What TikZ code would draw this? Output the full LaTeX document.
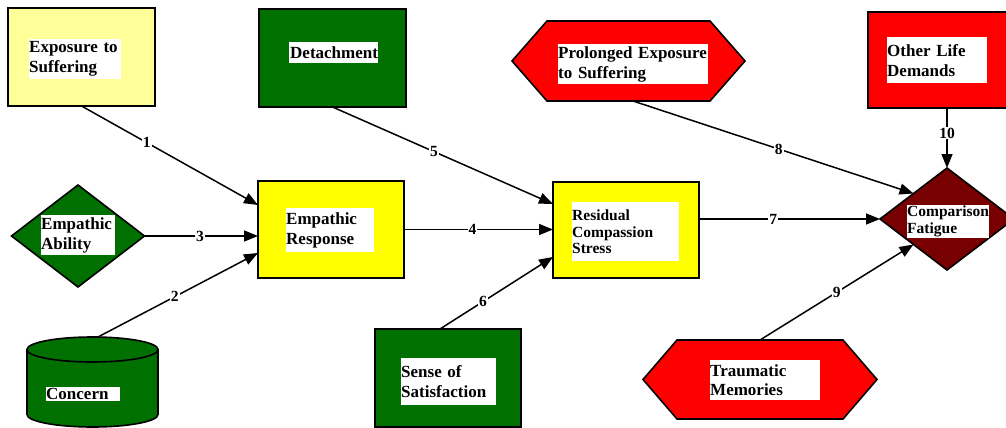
\documentclass[tikz,border=0pt]{standalone}
\usepackage{fontspec}
\setmainfont{Liberation Serif}
\usetikzlibrary{arrows.meta,calc,shapes.geometric}

\definecolor{paleyellow}{RGB}{255,255,153}
\definecolor{brightyellow}{RGB}{255,255,0}
\definecolor{forest}{RGB}{0,112,0}
\definecolor{signalred}{RGB}{255,0,0}
\definecolor{maroon}{RGB}{120,0,0}

\tikzset{
  shapebox/.style={draw=black, line width=1.6pt, rectangle, inner sep=0pt, outer sep=0pt},
  hexframe/.style={rectangle, inner sep=0pt, outer sep=0pt},
  shapeline/.style={draw=black, line width=1.6pt, line join=miter},
  lozenge/.style={draw=black, line width=1.6pt, diamond, inner sep=0pt, outer sep=0pt},
  caption/.style={fill=white, inner sep=0pt, align=left, anchor=north west,
    font=\bfseries\fontsize{17}{19.8}\selectfont},
  smallcaption/.style={caption, font=\bfseries\fontsize{15.5}{16.8}\selectfont},
  link/.style={line width=1.5pt, -{Triangle[length=14pt,width=11pt]}},
  num/.style={fill=white, inner sep=1pt, font=\bfseries\fontsize{15.5}{15.5}\selectfont}
}

\begin{document}
\begin{tikzpicture}[x=1pt, y=-1pt]
\useasboundingbox (0,0) rectangle (1006,428);
\clip (0,0) rectangle (1006,428);

% ---- rectangles ----
\node[shapebox, fill=paleyellow, minimum width=147pt, minimum height=98pt] (exp) at (81.5,57) {};
\node[shapebox, fill=forest, minimum width=147pt, minimum height=98pt] (det) at (332.5,58) {};
\node[shapebox, fill=brightyellow, minimum width=146pt, minimum height=97pt] (er) at (331,229.5) {};
\node[shapebox, fill=brightyellow, minimum width=146pt, minimum height=96pt] (rcs) at (626,230) {};
\node[shapebox, fill=forest, minimum width=146pt, minimum height=98pt] (sos) at (448,378) {};
\node[shapebox, fill=signalred, minimum width=144pt, minimum height=96pt] (old) at (940,60) {};

% ---- diamonds ----
\node[lozenge, fill=forest, minimum width=133pt, minimum height=102pt] (ea) at (78,236) {};
\node[lozenge, fill=maroon, minimum width=134pt, minimum height=102pt] (cf) at (947,219) {};

% ---- hexagons ----
\node[hexframe, minimum width=233pt, minimum height=80pt] (pe) at (628.5,61) {};
\draw[shapeline, fill=signalred]
  ($(pe.north west)+(35,0)$) -- ($(pe.north east)+(-35,0)$) -- (pe.east)
  -- ($(pe.south east)+(-35,0)$) -- ($(pe.south west)+(35,0)$) -- (pe.west) -- cycle;
\node[hexframe, minimum width=234pt, minimum height=79pt] (tm) at (760,379.5) {};
\draw[shapeline, fill=signalred]
  ($(tm.north west)+(34,0)$) -- ($(tm.north east)+(-34,0)$) -- (tm.east)
  -- ($(tm.south east)+(-34,0)$) -- ($(tm.south west)+(34,0)$) -- (tm.west) -- cycle;

% ---- cylinder ----
\node[hexframe, minimum width=131pt, minimum height=90pt] (cc) at (92.5,382) {};
\draw[shapeline, fill=forest]
  ($(cc.north west)+(0,12.5)$) -- ($(cc.south west)+(0,-12.5)$)
  arc[start angle=180, end angle=360, x radius=65.5pt, y radius=12.5pt]
  -- ($(cc.north east)+(0,12.5)$) -- cycle;
\draw[shapeline, fill=forest] ($(cc.north)+(0,12.5)$) ellipse [x radius=65.5pt, y radius=12.5pt];

% ---- captions ----
\node[caption, text width=92pt, minimum height=40pt] (expt) at (29,39) {Exposure to\\Suffering};
\node[caption, text width=89pt, minimum height=21pt] (dett) at (289,42) {\hspace*{1pt}Detachment};
\node[caption, text width=150pt, minimum height=40pt] (pet) at (558,44) {Prolonged Exposure\\to Suffering};
\node[caption, text width=100pt, minimum height=46pt] (oldt) at (887,37) {Other Life\\Demands};
\node[caption, text width=74pt, minimum height=40pt] (eat) at (41,215) {Empathic\\Ability};
\node[caption, text width=88pt, minimum height=44pt] (ert) at (286,208) {Empathic\\Response};
\node[smallcaption, text width=107pt, minimum height=59pt] (rcst) at (572,202) {Residual\\Compassion\\Stress};
\node[caption, text width=74pt, minimum height=14pt] (cct) at (46,387) {Concern};
\node[caption, text width=95pt, minimum height=47pt] (sost) at (401,358) {Sense of\\Satisfaction};
\node[caption, text width=110pt, minimum height=40pt] (tmt) at (710,360) {Traumatic\\Memories};
\node[smallcaption, text width=82pt, minimum height=33pt] (cft) at (907,205) {Comparison\\Fatigue};

% ---- connectors ----
\draw[link] (exp.south) -- node[num, pos=0.37] {1} ($(er.west)+(0,-24.5)$);
\draw[link] ($(cc.north)+(5.5,0)$) -- node[num, pos=0.48] {2} ($(er.west)+(0,23.5)$);
\draw[link] (ea.east) -- node[num, pos=0.49] {3} (ea.east -| er.west);
\draw[link] (er.east) -- node[num, pos=0.46] {4} (er.east -| rcs.west);
\draw[link] (det.south) -- node[num, pos=0.46] {5} ($(rcs.west)+(0,-26)$);
\draw[link] ($(sos.north)+(-8,0)$) -- node[num, pos=0.38] {6} ($(rcs.west)+(0,27)$);
\draw[link] (cf.west -| rcs.east) -- node[num, pos=0.41] {7} (cf.west);
\draw[link] ($(pe.south)+(4.5,0)$) -- node[num, pos=0.52] {8} (cf.north west);
\draw[link] (tm.north) -- node[num, pos=0.5] {9} (cf.south west);
\draw[link] (cf.north |- old.south) -- node[num, pos=0.42] {10} (cf.north);
\end{tikzpicture}
\end{document}
